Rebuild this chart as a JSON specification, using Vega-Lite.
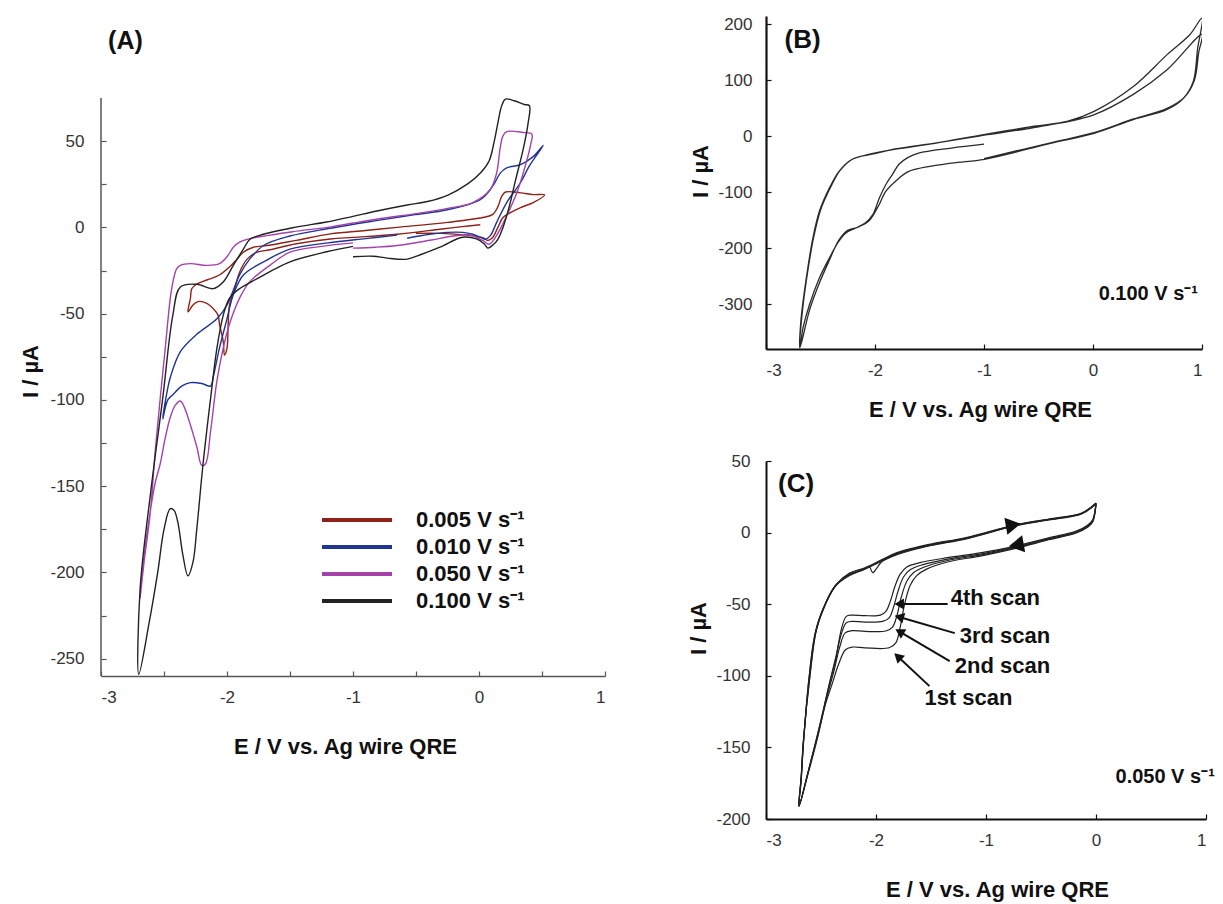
{
"$schema": "https://vega.github.io/schema/vega-lite/v6.json",
"padding": {"left": 19, "top": 15, "right": 5, "bottom": 5},
"bounds": "flush",
"spacing": 161,
"config": {
  "view": {"stroke": null},
  "font": "Liberation Sans",
  "axis": {"grid": false, "tickSize": -5, "tickWidth": 1.2, "tickColor": "#333", "domainColor": "#333", "domainWidth": 1.5, "labelFont": "Liberation Sans", "labelFontSize": 17, "labelColor": "#333", "titleFont": "Liberation Sans", "titleFontSize": 22, "titleFontWeight": "bold", "titleColor": "#111", "titleBaseline": "middle", "titleAlign": "center"}
},
"datasets": {
"A": [
{"s":"0.005 V s⁻¹","i":0,"E":0.01,"I":1.5},{"s":"0.005 V s⁻¹","i":1,"E":-0.15,"I":0.3},{"s":"0.005 V s⁻¹","i":2,"E":-0.31,"I":-1.1},{"s":"0.005 V s⁻¹","i":3,"E":-0.65,"I":-4},{"s":"0.005 V s⁻¹","i":4,"E":-1.0,"I":-5.8},{"s":"0.005 V s⁻¹","i":5,"E":-1.18,"I":-6.7},{"s":"0.005 V s⁻¹","i":6,"E":-1.45,"I":-9.5},{"s":"0.005 V s⁻¹","i":7,"E":-1.66,"I":-13},{"s":"0.005 V s⁻¹","i":8,"E":-1.76,"I":-14.4},{"s":"0.005 V s⁻¹","i":9,"E":-1.84,"I":-18.4},{"s":"0.005 V s⁻¹","i":10,"E":-1.9,"I":-26},{"s":"0.005 V s⁻¹","i":11,"E":-1.94,"I":-35.6},{"s":"0.005 V s⁻¹","i":12,"E":-1.98,"I":-45},{"s":"0.005 V s⁻¹","i":13,"E":-1.99,"I":-55},{"s":"0.005 V s⁻¹","i":14,"E":-2.0,"I":-70},{"s":"0.005 V s⁻¹","i":15,"E":-2.02,"I":-74},{"s":"0.005 V s⁻¹","i":16,"E":-2.03,"I":-66},{"s":"0.005 V s⁻¹","i":17,"E":-2.06,"I":-56},{"s":"0.005 V s⁻¹","i":18,"E":-2.07,"I":-51},{"s":"0.005 V s⁻¹","i":19,"E":-2.11,"I":-47},{"s":"0.005 V s⁻¹","i":20,"E":-2.16,"I":-44},{"s":"0.005 V s⁻¹","i":21,"E":-2.23,"I":-43},{"s":"0.005 V s⁻¹","i":22,"E":-2.27,"I":-45},{"s":"0.005 V s⁻¹","i":23,"E":-2.31,"I":-49},{"s":"0.005 V s⁻¹","i":24,"E":-2.29,"I":-41},{"s":"0.005 V s⁻¹","i":25,"E":-2.28,"I":-35.6},{"s":"0.005 V s⁻¹","i":26,"E":-2.24,"I":-32.8},{"s":"0.005 V s⁻¹","i":27,"E":-2.16,"I":-30.5},{"s":"0.005 V s⁻¹","i":28,"E":-2.06,"I":-27.6},{"s":"0.005 V s⁻¹","i":29,"E":-1.98,"I":-23},{"s":"0.005 V s⁻¹","i":30,"E":-1.92,"I":-18.4},{"s":"0.005 V s⁻¹","i":31,"E":-1.87,"I":-14.4},{"s":"0.005 V s⁻¹","i":32,"E":-1.79,"I":-11.5},{"s":"0.005 V s⁻¹","i":33,"E":-1.68,"I":-10.5},{"s":"0.005 V s⁻¹","i":34,"E":-1.45,"I":-7.5},{"s":"0.005 V s⁻¹","i":35,"E":-1.18,"I":-3.8},{"s":"0.005 V s⁻¹","i":36,"E":-0.9,"I":-1.8},{"s":"0.005 V s⁻¹","i":37,"E":-0.65,"I":0},{"s":"0.005 V s⁻¹","i":38,"E":-0.25,"I":2.9},{"s":"0.005 V s⁻¹","i":39,"E":0.03,"I":5.7},{"s":"0.005 V s⁻¹","i":40,"E":0.11,"I":7.5},{"s":"0.005 V s⁻¹","i":41,"E":0.15,"I":12},{"s":"0.005 V s⁻¹","i":42,"E":0.18,"I":18},{"s":"0.005 V s⁻¹","i":43,"E":0.21,"I":20.5},{"s":"0.005 V s⁻¹","i":44,"E":0.33,"I":20},{"s":"0.005 V s⁻¹","i":45,"E":0.43,"I":19},{"s":"0.005 V s⁻¹","i":46,"E":0.52,"I":18.8},{"s":"0.005 V s⁻¹","i":47,"E":0.43,"I":14.4},{"s":"0.005 V s⁻¹","i":48,"E":0.33,"I":11.5},{"s":"0.005 V s⁻¹","i":49,"E":0.25,"I":8.6},{"s":"0.005 V s⁻¹","i":50,"E":0.19,"I":5.7},{"s":"0.005 V s⁻¹","i":51,"E":0.15,"I":0},{"s":"0.005 V s⁻¹","i":52,"E":0.11,"I":-5.7},{"s":"0.005 V s⁻¹","i":53,"E":0.07,"I":-7.6},{"s":"0.005 V s⁻¹","i":54,"E":0.03,"I":-6},{"s":"0.005 V s⁻¹","i":55,"E":-0.1,"I":-4.5},{"s":"0.005 V s⁻¹","i":56,"E":-0.3,"I":-3.5},{"s":"0.005 V s⁻¹","i":57,"E":-0.5,"I":-3.5},
{"s":"0.010 V s⁻¹","i":0,"E":-0.57,"I":-6.3},{"s":"0.010 V s⁻¹","i":1,"E":-0.39,"I":-4},{"s":"0.010 V s⁻¹","i":2,"E":-0.25,"I":-2.9},{"s":"0.010 V s⁻¹","i":3,"E":-0.13,"I":-2.9},{"s":"0.010 V s⁻¹","i":4,"E":-0.05,"I":-4},{"s":"0.010 V s⁻¹","i":5,"E":0.02,"I":-6},{"s":"0.010 V s⁻¹","i":6,"E":0.05,"I":-6.9},{"s":"0.010 V s⁻¹","i":7,"E":0.09,"I":-4.8},{"s":"0.010 V s⁻¹","i":8,"E":0.14,"I":2.9},{"s":"0.010 V s⁻¹","i":9,"E":0.22,"I":14.4},{"s":"0.010 V s⁻¹","i":10,"E":0.33,"I":26},{"s":"0.010 V s⁻¹","i":11,"E":0.4,"I":35.6},{"s":"0.010 V s⁻¹","i":12,"E":0.51,"I":47.5},{"s":"0.010 V s⁻¹","i":13,"E":0.43,"I":41},{"s":"0.010 V s⁻¹","i":14,"E":0.33,"I":36.4},{"s":"0.010 V s⁻¹","i":15,"E":0.22,"I":34.5},{"s":"0.010 V s⁻¹","i":16,"E":0.17,"I":31.6},{"s":"0.010 V s⁻¹","i":17,"E":0.11,"I":24},{"s":"0.010 V s⁻¹","i":18,"E":0.01,"I":16},{"s":"0.010 V s⁻¹","i":19,"E":-0.25,"I":10.2},{"s":"0.010 V s⁻¹","i":20,"E":-0.52,"I":7.3},{"s":"0.010 V s⁻¹","i":21,"E":-0.79,"I":4.2},{"s":"0.010 V s⁻¹","i":22,"E":-1.18,"I":-0.5},{"s":"0.010 V s⁻¹","i":23,"E":-1.5,"I":-5},{"s":"0.010 V s⁻¹","i":24,"E":-1.71,"I":-10.5},{"s":"0.010 V s⁻¹","i":25,"E":-1.82,"I":-18.4},{"s":"0.010 V s⁻¹","i":26,"E":-1.9,"I":-27.6},{"s":"0.010 V s⁻¹","i":27,"E":-2.0,"I":-45},{"s":"0.010 V s⁻¹","i":28,"E":-2.08,"I":-53},{"s":"0.010 V s⁻¹","i":29,"E":-2.24,"I":-62},{"s":"0.010 V s⁻¹","i":30,"E":-2.37,"I":-72},{"s":"0.010 V s⁻¹","i":31,"E":-2.45,"I":-87},{"s":"0.010 V s⁻¹","i":32,"E":-2.48,"I":-97},{"s":"0.010 V s⁻¹","i":33,"E":-2.51,"I":-111},{"s":"0.010 V s⁻¹","i":34,"E":-2.47,"I":-100},{"s":"0.010 V s⁻¹","i":35,"E":-2.43,"I":-97},{"s":"0.010 V s⁻¹","i":36,"E":-2.36,"I":-92},{"s":"0.010 V s⁻¹","i":37,"E":-2.29,"I":-90},{"s":"0.010 V s⁻¹","i":38,"E":-2.2,"I":-90.5},{"s":"0.010 V s⁻¹","i":39,"E":-2.13,"I":-92},{"s":"0.010 V s⁻¹","i":40,"E":-2.11,"I":-87},{"s":"0.010 V s⁻¹","i":41,"E":-2.06,"I":-70},{"s":"0.010 V s⁻¹","i":42,"E":-2.0,"I":-53},{"s":"0.010 V s⁻¹","i":43,"E":-1.95,"I":-39},{"s":"0.010 V s⁻¹","i":44,"E":-1.87,"I":-27.6},{"s":"0.010 V s⁻¹","i":45,"E":-1.71,"I":-20},{"s":"0.010 V s⁻¹","i":46,"E":-1.5,"I":-12.6},{"s":"0.010 V s⁻¹","i":47,"E":-1.2,"I":-9},{"s":"0.010 V s⁻¹","i":48,"E":-0.9,"I":-6.5},{"s":"0.010 V s⁻¹","i":49,"E":-0.65,"I":-4.5},
{"s":"0.050 V s⁻¹","i":0,"E":-1.0,"I":-12},{"s":"0.050 V s⁻¹","i":1,"E":-0.82,"I":-11.5},{"s":"0.050 V s⁻¹","i":2,"E":-0.65,"I":-10.5},{"s":"0.050 V s⁻¹","i":3,"E":-0.39,"I":-7.5},{"s":"0.050 V s⁻¹","i":4,"E":-0.2,"I":-5},{"s":"0.050 V s⁻¹","i":5,"E":-0.07,"I":-4.4},{"s":"0.050 V s⁻¹","i":6,"E":0.03,"I":-7.6},{"s":"0.050 V s⁻¹","i":7,"E":0.08,"I":-9.8},{"s":"0.050 V s⁻¹","i":8,"E":0.14,"I":-4.6},{"s":"0.050 V s⁻¹","i":9,"E":0.22,"I":6.7},{"s":"0.050 V s⁻¹","i":10,"E":0.3,"I":20},{"s":"0.050 V s⁻¹","i":11,"E":0.38,"I":39},{"s":"0.050 V s⁻¹","i":12,"E":0.41,"I":48},{"s":"0.050 V s⁻¹","i":13,"E":0.42,"I":54},{"s":"0.050 V s⁻¹","i":14,"E":0.35,"I":55},{"s":"0.050 V s⁻¹","i":15,"E":0.22,"I":55.5},{"s":"0.050 V s⁻¹","i":16,"E":0.19,"I":53},{"s":"0.050 V s⁻¹","i":17,"E":0.17,"I":47},{"s":"0.050 V s⁻¹","i":18,"E":0.14,"I":31.6},{"s":"0.050 V s⁻¹","i":19,"E":0.09,"I":22},{"s":"0.050 V s⁻¹","i":20,"E":-0.05,"I":14.4},{"s":"0.050 V s⁻¹","i":21,"E":-0.25,"I":11},{"s":"0.050 V s⁻¹","i":22,"E":-0.5,"I":8},{"s":"0.050 V s⁻¹","i":23,"E":-0.79,"I":5},{"s":"0.050 V s⁻¹","i":24,"E":-1.0,"I":2.5},{"s":"0.050 V s⁻¹","i":25,"E":-1.2,"I":0},{"s":"0.050 V s⁻¹","i":26,"E":-1.48,"I":-2.5},{"s":"0.050 V s⁻¹","i":27,"E":-1.7,"I":-5},{"s":"0.050 V s⁻¹","i":28,"E":-1.82,"I":-6.5},{"s":"0.050 V s⁻¹","i":29,"E":-1.9,"I":-8.6},{"s":"0.050 V s⁻¹","i":30,"E":-1.95,"I":-11.5},{"s":"0.050 V s⁻¹","i":31,"E":-2.0,"I":-17},{"s":"0.050 V s⁻¹","i":32,"E":-2.06,"I":-21},{"s":"0.050 V s⁻¹","i":33,"E":-2.16,"I":-22},{"s":"0.050 V s⁻¹","i":34,"E":-2.29,"I":-21},{"s":"0.050 V s⁻¹","i":35,"E":-2.37,"I":-22},{"s":"0.050 V s⁻¹","i":36,"E":-2.4,"I":-24},{"s":"0.050 V s⁻¹","i":37,"E":-2.43,"I":-32},{"s":"0.050 V s⁻¹","i":38,"E":-2.45,"I":-41},{"s":"0.050 V s⁻¹","i":39,"E":-2.49,"I":-70},{"s":"0.050 V s⁻¹","i":40,"E":-2.53,"I":-99},{"s":"0.050 V s⁻¹","i":41,"E":-2.57,"I":-130},{"s":"0.050 V s⁻¹","i":42,"E":-2.61,"I":-166},{"s":"0.050 V s⁻¹","i":43,"E":-2.66,"I":-195},{"s":"0.050 V s⁻¹","i":44,"E":-2.69,"I":-215},{"s":"0.050 V s⁻¹","i":45,"E":-2.66,"I":-192},{"s":"0.050 V s⁻¹","i":46,"E":-2.61,"I":-165},{"s":"0.050 V s⁻¹","i":47,"E":-2.57,"I":-148},{"s":"0.050 V s⁻¹","i":48,"E":-2.53,"I":-137},{"s":"0.050 V s⁻¹","i":49,"E":-2.49,"I":-122},{"s":"0.050 V s⁻¹","i":50,"E":-2.45,"I":-110},{"s":"0.050 V s⁻¹","i":51,"E":-2.41,"I":-103},{"s":"0.050 V s⁻¹","i":52,"E":-2.37,"I":-100.6},{"s":"0.050 V s⁻¹","i":53,"E":-2.34,"I":-104},{"s":"0.050 V s⁻¹","i":54,"E":-2.31,"I":-110},{"s":"0.050 V s⁻¹","i":55,"E":-2.24,"I":-127},{"s":"0.050 V s⁻¹","i":56,"E":-2.2,"I":-138},{"s":"0.050 V s⁻¹","i":57,"E":-2.17,"I":-137},{"s":"0.050 V s⁻¹","i":58,"E":-2.13,"I":-118},{"s":"0.050 V s⁻¹","i":59,"E":-2.08,"I":-89},{"s":"0.050 V s⁻¹","i":60,"E":-2.03,"I":-70},{"s":"0.050 V s⁻¹","i":61,"E":-1.98,"I":-56},{"s":"0.050 V s⁻¹","i":62,"E":-1.9,"I":-41},{"s":"0.050 V s⁻¹","i":63,"E":-1.82,"I":-31.6},{"s":"0.050 V s⁻¹","i":64,"E":-1.66,"I":-22},{"s":"0.050 V s⁻¹","i":65,"E":-1.5,"I":-14.4},{"s":"0.050 V s⁻¹","i":66,"E":-1.25,"I":-11},{"s":"0.050 V s⁻¹","i":67,"E":-1.0,"I":-9},
{"s":"0.100 V s⁻¹","i":0,"E":-1.0,"I":-17},{"s":"0.100 V s⁻¹","i":1,"E":-0.84,"I":-16.7},{"s":"0.100 V s⁻¹","i":2,"E":-0.73,"I":-17.8},{"s":"0.100 V s⁻¹","i":3,"E":-0.57,"I":-18.4},{"s":"0.100 V s⁻¹","i":4,"E":-0.47,"I":-16},{"s":"0.100 V s⁻¹","i":5,"E":-0.31,"I":-11.5},{"s":"0.100 V s⁻¹","i":6,"E":-0.13,"I":-5.7},{"s":"0.100 V s⁻¹","i":7,"E":-0.02,"I":-6.7},{"s":"0.100 V s⁻¹","i":8,"E":0.04,"I":-9.5},{"s":"0.100 V s⁻¹","i":9,"E":0.07,"I":-12},{"s":"0.100 V s⁻¹","i":10,"E":0.11,"I":-10.2},{"s":"0.100 V s⁻¹","i":11,"E":0.15,"I":-6.9},{"s":"0.100 V s⁻¹","i":12,"E":0.19,"I":-0.2},{"s":"0.100 V s⁻¹","i":13,"E":0.24,"I":12},{"s":"0.100 V s⁻¹","i":14,"E":0.29,"I":27.4},{"s":"0.100 V s⁻¹","i":15,"E":0.35,"I":45},{"s":"0.100 V s⁻¹","i":16,"E":0.39,"I":60.6},{"s":"0.100 V s⁻¹","i":17,"E":0.4,"I":70.5},{"s":"0.100 V s⁻¹","i":18,"E":0.36,"I":71.2},{"s":"0.100 V s⁻¹","i":19,"E":0.28,"I":73.4},{"s":"0.100 V s⁻¹","i":20,"E":0.21,"I":74.3},{"s":"0.100 V s⁻¹","i":21,"E":0.18,"I":70.5},{"s":"0.100 V s⁻¹","i":22,"E":0.15,"I":60.6},{"s":"0.100 V s⁻¹","i":23,"E":0.12,"I":49.5},{"s":"0.100 V s⁻¹","i":24,"E":0.08,"I":38.5},{"s":"0.100 V s⁻¹","i":25,"E":0.015,"I":31.8},{"s":"0.100 V s⁻¹","i":26,"E":-0.09,"I":25.2},{"s":"0.100 V s⁻¹","i":27,"E":-0.25,"I":18.6},{"s":"0.100 V s⁻¹","i":28,"E":-0.41,"I":15},{"s":"0.100 V s⁻¹","i":29,"E":-0.57,"I":13},{"s":"0.100 V s⁻¹","i":30,"E":-0.81,"I":9.5},{"s":"0.100 V s⁻¹","i":31,"E":-1.0,"I":6.4},{"s":"0.100 V s⁻¹","i":32,"E":-1.21,"I":3.1},{"s":"0.100 V s⁻¹","i":33,"E":-1.48,"I":-0.2},{"s":"0.100 V s⁻¹","i":34,"E":-1.74,"I":-4.6},{"s":"0.100 V s⁻¹","i":35,"E":-1.82,"I":-7},{"s":"0.100 V s⁻¹","i":36,"E":-1.87,"I":-12.6},{"s":"0.100 V s⁻¹","i":37,"E":-1.95,"I":-22},{"s":"0.100 V s⁻¹","i":38,"E":-2.03,"I":-31.6},{"s":"0.100 V s⁻¹","i":39,"E":-2.11,"I":-35.5},{"s":"0.100 V s⁻¹","i":40,"E":-2.24,"I":-33},{"s":"0.100 V s⁻¹","i":41,"E":-2.37,"I":-34.5},{"s":"0.100 V s⁻¹","i":42,"E":-2.43,"I":-51},{"s":"0.100 V s⁻¹","i":43,"E":-2.51,"I":-99},{"s":"0.100 V s⁻¹","i":44,"E":-2.61,"I":-156},{"s":"0.100 V s⁻¹","i":45,"E":-2.69,"I":-210},{"s":"0.100 V s⁻¹","i":46,"E":-2.7,"I":-259},{"s":"0.100 V s⁻¹","i":47,"E":-2.62,"I":-230},{"s":"0.100 V s⁻¹","i":48,"E":-2.55,"I":-200},{"s":"0.100 V s⁻¹","i":49,"E":-2.5,"I":-175},{"s":"0.100 V s⁻¹","i":50,"E":-2.45,"I":-163},{"s":"0.100 V s⁻¹","i":51,"E":-2.42,"I":-164},{"s":"0.100 V s⁻¹","i":52,"E":-2.39,"I":-171},{"s":"0.100 V s⁻¹","i":53,"E":-2.35,"I":-190},{"s":"0.100 V s⁻¹","i":54,"E":-2.31,"I":-202},{"s":"0.100 V s⁻¹","i":55,"E":-2.27,"I":-194},{"s":"0.100 V s⁻¹","i":56,"E":-2.24,"I":-175},{"s":"0.100 V s⁻¹","i":57,"E":-2.19,"I":-137},{"s":"0.100 V s⁻¹","i":58,"E":-2.13,"I":-99},{"s":"0.100 V s⁻¹","i":59,"E":-2.08,"I":-70},{"s":"0.100 V s⁻¹","i":60,"E":-2.03,"I":-51},{"s":"0.100 V s⁻¹","i":61,"E":-1.98,"I":-41},{"s":"0.100 V s⁻¹","i":62,"E":-1.9,"I":-35.5},{"s":"0.100 V s⁻¹","i":63,"E":-1.76,"I":-29.7},{"s":"0.100 V s⁻¹","i":64,"E":-1.5,"I":-20},{"s":"0.100 V s⁻¹","i":65,"E":-1.2,"I":-14},{"s":"0.100 V s⁻¹","i":66,"E":-1.0,"I":-11}
],
"B": [
{"i":0,"E":-1.0,"I":-14},{"i":1,"E":-1.3,"I":-21},{"i":2,"E":-1.6,"I":-30},{"i":3,"E":-1.7,"I":-38},{"i":4,"E":-1.78,"I":-50},{"i":5,"E":-1.84,"I":-68},{"i":6,"E":-1.9,"I":-86},{"i":7,"E":-1.96,"I":-110},{"i":8,"E":-2.02,"I":-140},{"i":9,"E":-2.09,"I":-155},{"i":10,"E":-2.18,"I":-164},{"i":11,"E":-2.27,"I":-173},{"i":12,"E":-2.33,"I":-187},{"i":13,"E":-2.42,"I":-218},{"i":14,"E":-2.51,"I":-253},{"i":15,"E":-2.6,"I":-300},{"i":16,"E":-2.66,"I":-342},{"i":17,"E":-2.69,"I":-378},{"i":18,"E":-2.68,"I":-330},{"i":19,"E":-2.63,"I":-253},{"i":20,"E":-2.57,"I":-182},{"i":21,"E":-2.51,"I":-134},{"i":22,"E":-2.42,"I":-93},{"i":23,"E":-2.33,"I":-62.5},{"i":24,"E":-2.21,"I":-41},{"i":25,"E":-2.05,"I":-32},{"i":26,"E":-1.81,"I":-23},{"i":27,"E":-1.45,"I":-12.5},{"i":28,"E":-0.99,"I":3.6},{"i":29,"E":-0.54,"I":18},{"i":30,"E":-0.23,"I":27},{"i":31,"E":0.01,"I":44.6},{"i":32,"E":0.37,"I":89},{"i":33,"E":0.68,"I":146},{"i":34,"E":0.89,"I":182},{"i":35,"E":1.0,"I":211},{"i":36,"E":0.96,"I":157},{"i":37,"E":0.92,"I":98},{"i":38,"E":0.83,"I":68},{"i":39,"E":0.68,"I":48},{"i":40,"E":0.37,"I":30},{"i":41,"E":0.01,"I":5.4},{"i":42,"E":-0.39,"I":-12.5},{"i":43,"E":-0.995,"I":-41},{"i":44,"E":-1.3,"I":-48},{"i":45,"E":-1.69,"I":-62.5},{"i":46,"E":-1.81,"I":-80},{"i":47,"E":-1.9,"I":-98},{"i":48,"E":-1.97,"I":-125},{"i":49,"E":-2.05,"I":-150},{"i":50,"E":-2.15,"I":-162},{"i":51,"E":-2.25,"I":-168},{"i":52,"E":-2.33,"I":-185},{"i":53,"E":-2.42,"I":-222},{"i":54,"E":-2.51,"I":-262},{"i":55,"E":-2.6,"I":-310},{"i":56,"E":-2.69,"I":-378},{"i":57,"E":-2.67,"I":-320},{"i":58,"E":-2.62,"I":-245},{"i":59,"E":-2.56,"I":-178},{"i":60,"E":-2.5,"I":-132},{"i":61,"E":-2.41,"I":-92},{"i":62,"E":-2.32,"I":-61},{"i":63,"E":-2.2,"I":-40},{"i":64,"E":-2.0,"I":-31},{"i":65,"E":-1.8,"I":-22},{"i":66,"E":-1.45,"I":-12},{"i":67,"E":-1.0,"I":2},{"i":68,"E":-0.5,"I":17},{"i":69,"E":0.0,"I":38},{"i":70,"E":0.37,"I":75},{"i":71,"E":0.68,"I":119},{"i":72,"E":1.0,"I":182},{"i":73,"E":0.97,"I":150},{"i":74,"E":0.93,"I":100},{"i":75,"E":0.84,"I":70},{"i":76,"E":0.68,"I":50},{"i":77,"E":0.37,"I":31},{"i":78,"E":0.0,"I":6},{"i":79,"E":-0.4,"I":-12},{"i":80,"E":-1.0,"I":-40}
],
"C": [
{"k":"4","i":0,"E":0.0,"I":20.7},{"k":"4","i":1,"E":-0.03,"I":9},{"k":"4","i":2,"E":-0.08,"I":5},{"k":"4","i":3,"E":-0.18,"I":1.1},{"k":"4","i":4,"E":-0.43,"I":-3.7},{"k":"4","i":5,"E":-0.73,"I":-9.4},{"k":"4","i":6,"E":-1.04,"I":-14},{"k":"4","i":7,"E":-1.35,"I":-17.5},{"k":"4","i":8,"E":-1.6,"I":-21},{"k":"4","i":9,"E":-1.72,"I":-24},{"k":"4","i":10,"E":-1.78,"I":-29},{"k":"4","i":11,"E":-1.83,"I":-38},{"k":"4","i":12,"E":-1.87,"I":-48},{"k":"4","i":13,"E":-1.91,"I":-55},{"k":"4","i":14,"E":-1.96,"I":-57.6},{"k":"4","i":15,"E":-2.1,"I":-58},{"k":"4","i":16,"E":-2.22,"I":-57.6},{"k":"4","i":17,"E":-2.27,"I":-58.5},{"k":"4","i":18,"E":-2.31,"I":-66},{"k":"4","i":19,"E":-2.36,"I":-85},{"k":"4","i":20,"E":-2.42,"I":-104},{"k":"4","i":21,"E":-2.51,"I":-134},{"k":"4","i":22,"E":-2.6,"I":-162},{"k":"4","i":23,"E":-2.7,"I":-191},{"k":"4","i":24,"E":-2.68,"I":-170},{"k":"4","i":25,"E":-2.66,"I":-145},{"k":"4","i":26,"E":-2.6,"I":-99},{"k":"4","i":27,"E":-2.54,"I":-66.5},{"k":"4","i":28,"E":-2.45,"I":-47.8},{"k":"4","i":29,"E":-2.36,"I":-36},{"k":"4","i":30,"E":-2.24,"I":-28.2},{"k":"4","i":31,"E":-2.1,"I":-24.5},{"k":"4","i":32,"E":-1.95,"I":-19},{"k":"4","i":33,"E":-1.81,"I":-14},{"k":"4","i":34,"E":-1.5,"I":-8},{"k":"4","i":35,"E":-1.19,"I":-3.7},{"k":"4","i":36,"E":-0.73,"I":5.5},{"k":"4","i":37,"E":-0.43,"I":9.5},{"k":"4","i":38,"E":-0.13,"I":13.7},{"k":"4","i":39,"E":0.0,"I":20.7},
{"k":"3","i":0,"E":0.0,"I":20.5},{"k":"3","i":1,"E":-0.03,"I":8.5},{"k":"3","i":2,"E":-0.08,"I":4.5},{"k":"3","i":3,"E":-0.18,"I":0.6},{"k":"3","i":4,"E":-0.43,"I":-4.2},{"k":"3","i":5,"E":-0.73,"I":-10},{"k":"3","i":6,"E":-1.04,"I":-14.8},{"k":"3","i":7,"E":-1.35,"I":-18.5},{"k":"3","i":8,"E":-1.58,"I":-22.5},{"k":"3","i":9,"E":-1.69,"I":-26},{"k":"3","i":10,"E":-1.75,"I":-31},{"k":"3","i":11,"E":-1.8,"I":-41},{"k":"3","i":12,"E":-1.84,"I":-52},{"k":"3","i":13,"E":-1.88,"I":-59.5},{"k":"3","i":14,"E":-1.94,"I":-62},{"k":"3","i":15,"E":-2.1,"I":-62.5},{"k":"3","i":16,"E":-2.22,"I":-62},{"k":"3","i":17,"E":-2.27,"I":-63},{"k":"3","i":18,"E":-2.32,"I":-72},{"k":"3","i":19,"E":-2.37,"I":-90},{"k":"3","i":20,"E":-2.43,"I":-108},{"k":"3","i":21,"E":-2.52,"I":-138},{"k":"3","i":22,"E":-2.61,"I":-165},{"k":"3","i":23,"E":-2.7,"I":-191},{"k":"3","i":24,"E":-2.68,"I":-171},{"k":"3","i":25,"E":-2.66,"I":-146},{"k":"3","i":26,"E":-2.6,"I":-100},{"k":"3","i":27,"E":-2.54,"I":-67.5},{"k":"3","i":28,"E":-2.45,"I":-48.5},{"k":"3","i":29,"E":-2.36,"I":-36.5},{"k":"3","i":30,"E":-2.24,"I":-28.8},{"k":"3","i":31,"E":-2.1,"I":-25},{"k":"3","i":32,"E":-1.95,"I":-19.5},{"k":"3","i":33,"E":-1.81,"I":-14.5},{"k":"3","i":34,"E":-1.5,"I":-8.4},{"k":"3","i":35,"E":-1.19,"I":-4},{"k":"3","i":36,"E":-0.73,"I":5.2},{"k":"3","i":37,"E":-0.43,"I":9.2},{"k":"3","i":38,"E":-0.13,"I":13.5},{"k":"3","i":39,"E":0.0,"I":20.5},
{"k":"2","i":0,"E":0.0,"I":20.3},{"k":"2","i":1,"E":-0.03,"I":8},{"k":"2","i":2,"E":-0.08,"I":4},{"k":"2","i":3,"E":-0.18,"I":0.2},{"k":"2","i":4,"E":-0.43,"I":-4.6},{"k":"2","i":5,"E":-0.73,"I":-10.5},{"k":"2","i":6,"E":-1.04,"I":-15.5},{"k":"2","i":7,"E":-1.35,"I":-19.5},{"k":"2","i":8,"E":-1.56,"I":-24},{"k":"2","i":9,"E":-1.66,"I":-28},{"k":"2","i":10,"E":-1.72,"I":-34},{"k":"2","i":11,"E":-1.77,"I":-45},{"k":"2","i":12,"E":-1.81,"I":-58},{"k":"2","i":13,"E":-1.85,"I":-66},{"k":"2","i":14,"E":-1.91,"I":-68.7},{"k":"2","i":15,"E":-2.1,"I":-69},{"k":"2","i":16,"E":-2.22,"I":-68.5},{"k":"2","i":17,"E":-2.28,"I":-70},{"k":"2","i":18,"E":-2.33,"I":-80},{"k":"2","i":19,"E":-2.38,"I":-96},{"k":"2","i":20,"E":-2.44,"I":-113},{"k":"2","i":21,"E":-2.53,"I":-142},{"k":"2","i":22,"E":-2.62,"I":-168},{"k":"2","i":23,"E":-2.7,"I":-191},{"k":"2","i":24,"E":-2.68,"I":-172},{"k":"2","i":25,"E":-2.66,"I":-147},{"k":"2","i":26,"E":-2.61,"I":-102},{"k":"2","i":27,"E":-2.55,"I":-69},{"k":"2","i":28,"E":-2.46,"I":-49.5},{"k":"2","i":29,"E":-2.37,"I":-37},{"k":"2","i":30,"E":-2.24,"I":-29.5},{"k":"2","i":31,"E":-2.1,"I":-25.5},{"k":"2","i":32,"E":-1.95,"I":-20},{"k":"2","i":33,"E":-1.81,"I":-15},{"k":"2","i":34,"E":-1.5,"I":-8.8},{"k":"2","i":35,"E":-1.19,"I":-4.3},{"k":"2","i":36,"E":-0.73,"I":5},{"k":"2","i":37,"E":-0.43,"I":9},{"k":"2","i":38,"E":-0.13,"I":13.3},{"k":"2","i":39,"E":0.0,"I":20.3},
{"k":"1","i":0,"E":0.0,"I":20},{"k":"1","i":1,"E":-0.03,"I":7.5},{"k":"1","i":2,"E":-0.08,"I":3.5},{"k":"1","i":3,"E":-0.18,"I":-0.3},{"k":"1","i":4,"E":-0.43,"I":-5},{"k":"1","i":5,"E":-0.73,"I":-11},{"k":"1","i":6,"E":-1.04,"I":-16.2},{"k":"1","i":7,"E":-1.35,"I":-20.5},{"k":"1","i":8,"E":-1.54,"I":-25.5},{"k":"1","i":9,"E":-1.63,"I":-30},{"k":"1","i":10,"E":-1.69,"I":-37},{"k":"1","i":11,"E":-1.74,"I":-50},{"k":"1","i":12,"E":-1.78,"I":-66},{"k":"1","i":13,"E":-1.82,"I":-77},{"k":"1","i":14,"E":-1.88,"I":-80.4},{"k":"1","i":15,"E":-2.1,"I":-80.5},{"k":"1","i":16,"E":-2.22,"I":-80},{"k":"1","i":17,"E":-2.28,"I":-82},{"k":"1","i":18,"E":-2.34,"I":-92},{"k":"1","i":19,"E":-2.4,"I":-106},{"k":"1","i":20,"E":-2.46,"I":-120},{"k":"1","i":21,"E":-2.54,"I":-146},{"k":"1","i":22,"E":-2.63,"I":-172},{"k":"1","i":23,"E":-2.7,"I":-191},{"k":"1","i":24,"E":-2.68,"I":-173},{"k":"1","i":25,"E":-2.66,"I":-148},{"k":"1","i":26,"E":-2.61,"I":-103},{"k":"1","i":27,"E":-2.55,"I":-70},{"k":"1","i":28,"E":-2.46,"I":-50},{"k":"1","i":29,"E":-2.37,"I":-37.5},{"k":"1","i":30,"E":-2.24,"I":-30},{"k":"1","i":31,"E":-2.12,"I":-26},{"k":"1","i":32,"E":-2.06,"I":-24},{"k":"1","i":33,"E":-2.03,"I":-28},{"k":"1","i":34,"E":-1.99,"I":-24.5},{"k":"1","i":35,"E":-1.95,"I":-20.5},{"k":"1","i":36,"E":-1.81,"I":-15.5},{"k":"1","i":37,"E":-1.5,"I":-9},{"k":"1","i":38,"E":-1.19,"I":-4.5},{"k":"1","i":39,"E":-0.73,"I":4.8},{"k":"1","i":40,"E":-0.43,"I":8.8},{"k":"1","i":41,"E":-0.13,"I":13},{"k":"1","i":42,"E":0.0,"I":20}
],
"Cann": [
{"t":"4th scan","sx":-1.349,"sy":-49.9,"hx":-1.789,"hy":-49.9,"lx":-1.321,"ly":-45.7},
{"t":"3rd scan","sx":-1.284,"sy":-70.2,"hx":-1.789,"hy":-58.9,"lx":-1.239,"ly":-72.3},
{"t":"2nd scan","sx":-1.33,"sy":-89.8,"hx":-1.786,"hy":-69.1,"lx":-1.284,"ly":-93.2},
{"t":"1st scan","sx":-1.514,"sy":-107.2,"hx":-1.802,"hy":-86.5,"lx":-1.56,"ly":-115.6}
]
},
"hconcat": [
{
"width": 504, "height": 660,
"layer": [
{
"data": {"name": "A"},
"mark": {"type": "line", "strokeWidth": 1.4, "interpolate": "catmull-rom", "clip": true},
"encoding": {
"x": {"field": "E", "type": "quantitative", "scale": {"domain": [-3, 1], "nice": false, "zero": false},
  "axis": {"values": [-3,-2.5,-2,-1.5,-1,-0.5,0,0.5,1], "labelExpr": "datum.value % 1 === 0 ? '' + datum.value : ''", "title": "E / V vs. Ag wire QRE", "titleX": 244, "titleY": 70, "labelPadding": 18, "domainColor": "#555", "tickColor": "#555"}},
"y": {"field": "I", "type": "quantitative", "scale": {"domain": [-260, 122.5], "nice": false, "zero": false},
  "axis": {"values": [-250,-225,-200,-175,-150,-125,-100,-75,-50,-25,0,25,50], "labelExpr": "datum.value % 50 === 0 ? '' + datum.value : ''", "title": "I / µA", "titleX": -71, "titleY": 355, "labelPadding": 22, "domain": false, "tickColor": "#555"}},
"color": {"field": "s", "type": "nominal",
  "scale": {"domain": ["0.005 V s⁻¹","0.010 V s⁻¹","0.050 V s⁻¹","0.100 V s⁻¹"], "range": ["#8e2219","#1f3591","#a442aa","#222222"]},
  "legend": {"orient": "none", "legendX": 245, "legendY": 493, "title": null, "symbolType": "M-5,0H5", "symbolSize": 196, "symbolStrokeWidth": 4, "labelFont": "Liberation Sans", "labelFontSize": 22, "labelFontWeight": "bold", "labelColor": "#111", "labelOffset": 48, "rowPadding": 5, "padding": 0, "labelLimit": 400,
    "encode": {"symbols": {"update": {"strokeWidth": {"value": 4}}}}}},
"order": {"field": "i", "type": "quantitative"}
}
},
{"data": {"values": [{}]}, "mark": {"type": "rule", "color": "#555", "strokeWidth": 1.5},
 "encoding": {"x": {"datum": -3}, "y": {"datum": -260}, "y2": {"datum": 75}}},
{"data": {"values": [{"E": -2.944, "I": 108, "t": "(A)"}]}, "mark": {"type": "text", "align": "left", "baseline": "middle", "fontSize": 25, "fontWeight": "bold", "color": "#111"},
 "encoding": {"x": {"field": "E", "type": "quantitative"}, "y": {"field": "I", "type": "quantitative"}, "text": {"field": "t"}}}
]
},
{
"vconcat": [
{
"width": 436, "height": 333,
"layer": [
{"data": {"name": "B"}, "mark": {"type": "line", "color": "#2b2b2b", "strokeWidth": 1.3, "interpolate": "catmull-rom", "clip": true},
 "encoding": {
  "x": {"field": "E", "type": "quantitative", "scale": {"domain": [-3, 1], "nice": false, "zero": false},
    "axis": {"values": [-3,-2,-1,0,1], "labelExpr": "'' + datum.value", "title": "E / V vs. Ag wire QRE", "titleX": 214, "titleY": 60, "labelPadding": 18, "domainWidth": 2.2, "domainColor": "#111", "tickColor": "#111"}},
  "y": {"field": "I", "type": "quantitative", "scale": {"domain": [-380, 215], "nice": false, "zero": false},
    "axis": {"values": [-300,-200,-100,0,100,200], "labelExpr": "'' + datum.value", "title": "I / µA", "titleX": -66, "titleY": 155, "labelPadding": 19, "domainWidth": 2.2, "domainColor": "#111", "tickColor": "#111"}},
  "order": {"field": "i", "type": "quantitative"}
 }},
{"data": {"values": [{"E": -2.83, "I": 173, "t": "(B)"}]}, "mark": {"type": "text", "align": "left", "baseline": "middle", "fontSize": 26, "fontWeight": "bold", "color": "#111"},
 "encoding": {"x": {"field": "E", "type": "quantitative"}, "y": {"field": "I", "type": "quantitative"}, "text": {"field": "t"}}},
{"data": {"values": [{"E": 0.963, "I": -282, "t": "0.100 V s⁻¹"}]}, "mark": {"type": "text", "align": "right", "baseline": "middle", "fontSize": 20, "fontWeight": "bold", "color": "#111"},
 "encoding": {"x": {"field": "E", "type": "quantitative"}, "y": {"field": "I", "type": "quantitative"}, "text": {"field": "t"}}}
]
},
{
"width": 440, "height": 358,
"layer": [
{"data": {"name": "C"}, "mark": {"type": "line", "color": "#222", "strokeWidth": 1.2, "interpolate": "catmull-rom", "clip": true},
 "encoding": {
  "x": {"field": "E", "type": "quantitative", "scale": {"domain": [-3, 1], "nice": false, "zero": false},
    "axis": {"values": [-3,-2,-1,0,1], "labelExpr": "'' + datum.value", "title": "E / V vs. Ag wire QRE", "titleX": 231, "titleY": 70, "labelPadding": 18, "domainWidth": 2, "domainColor": "#111", "tickColor": "#111"}},
  "y": {"field": "I", "type": "quantitative", "scale": {"domain": [-200, 50], "nice": false, "zero": false},
    "axis": {"values": [-200,-175,-150,-125,-100,-75,-50,-25,0,25,50], "labelExpr": "datum.value % 50 === 0 ? '' + datum.value : ''", "title": "I / µA", "titleX": -68, "titleY": 167, "labelPadding": 21, "domainWidth": 2, "domainColor": "#111", "tickColor": "#111"}},
  "detail": {"field": "k", "type": "nominal"},
  "order": {"field": "i", "type": "quantitative"}
 }},
{"data": {"values": [{"E": -0.752, "I": 5.3, "d": "fwd"}, {"E": -0.725, "I": -8.7, "d": "rev"}]},
 "mark": {"type": "point", "filled": true, "size": 300, "angle": 350, "color": "#111", "opacity": 1},
 "encoding": {"x": {"field": "E", "type": "quantitative"}, "y": {"field": "I", "type": "quantitative"},
   "shape": {"field": "d", "type": "nominal", "scale": {"domain": ["fwd", "rev"], "range": ["triangle-right", "triangle-left"]}, "legend": null}}},
{"data": {"name": "Cann"}, "mark": {"type": "rule", "color": "#111", "strokeWidth": 2},
 "encoding": {"x": {"field": "sx", "type": "quantitative"}, "y": {"field": "sy", "type": "quantitative"}, "x2": {"field": "hx"}, "y2": {"field": "hy"}}},
{"data": {"name": "Cann"}, "transform": [{"filter": "datum.t === '4th scan'"}], "mark": {"type": "point", "shape": "triangle-left", "filled": true, "size": 120, "angle": 0, "color": "#111", "opacity": 1},
 "encoding": {"x": {"field": "hx", "type": "quantitative"}, "y": {"field": "hy", "type": "quantitative"}}},
{"data": {"name": "Cann"}, "transform": [{"filter": "datum.t === '3rd scan'"}], "mark": {"type": "point", "shape": "triangle-left", "filled": true, "size": 120, "angle": 16, "color": "#111", "opacity": 1},
 "encoding": {"x": {"field": "hx", "type": "quantitative"}, "y": {"field": "hy", "type": "quantitative"}}},
{"data": {"name": "Cann"}, "transform": [{"filter": "datum.t === '2nd scan'"}], "mark": {"type": "point", "shape": "triangle-left", "filled": true, "size": 120, "angle": 30, "color": "#111", "opacity": 1},
 "encoding": {"x": {"field": "hx", "type": "quantitative"}, "y": {"field": "hy", "type": "quantitative"}}},
{"data": {"name": "Cann"}, "transform": [{"filter": "datum.t === '1st scan'"}], "mark": {"type": "point", "shape": "triangle-left", "filled": true, "size": 120, "angle": 43, "color": "#111", "opacity": 1},
 "encoding": {"x": {"field": "hx", "type": "quantitative"}, "y": {"field": "hy", "type": "quantitative"}}},
{"data": {"name": "Cann"}, "mark": {"type": "text", "align": "left", "baseline": "middle", "fontSize": 22, "fontWeight": "bold", "color": "#111"},
 "encoding": {"x": {"field": "lx", "type": "quantitative"}, "y": {"field": "ly", "type": "quantitative"}, "text": {"field": "t"}}},
{"data": {"values": [{"E": -2.89, "I": 34, "t": "(C)"}]}, "mark": {"type": "text", "align": "left", "baseline": "middle", "fontSize": 26, "fontWeight": "bold", "color": "#111"},
 "encoding": {"x": {"field": "E", "type": "quantitative"}, "y": {"field": "I", "type": "quantitative"}, "text": {"field": "t"}}},
{"data": {"values": [{"E": 1.08, "I": -171, "t": "0.050 V s⁻¹"}]}, "mark": {"type": "text", "align": "right", "baseline": "middle", "fontSize": 20, "fontWeight": "bold", "color": "#111"},
 "encoding": {"x": {"field": "E", "type": "quantitative"}, "y": {"field": "I", "type": "quantitative"}, "text": {"field": "t"}}}
]
}
],
"spacing": 112, "bounds": "flush"
}
]
}
